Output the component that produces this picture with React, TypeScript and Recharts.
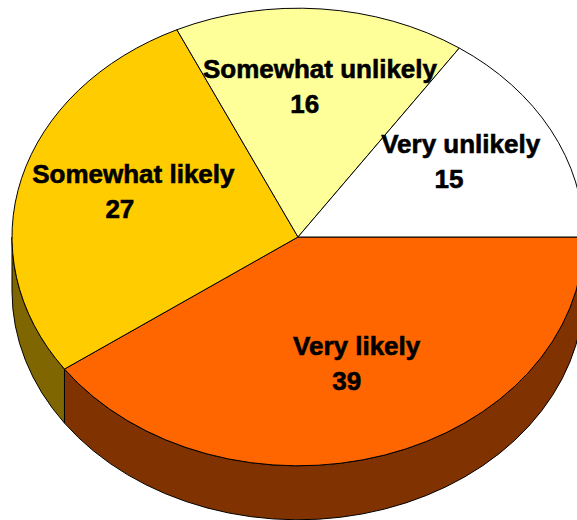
import React from 'react';
import { PieChart, Pie } from 'recharts';

const categories = ['Very likely', 'Somewhat likely', 'Somewhat unlikely', 'Very unlikely'];
const values = [39, 27, 16, 15];
const topColors = ['#FF6600', '#FFCC00', '#FFFF99', '#FFFFFF'];
const sideColors = ['#803300', '#806600', '#80804C', '#808080'];

const data = categories.map((name, i) => ({
  name,
  value: values[i],
  fill: topColors[i],
  side: sideColors[i],
}));

const TILT = 0.8;
const DEPTH = 54;
const RAD = Math.PI / 180;
const FONT = '"Liberation Sans", Arial, sans-serif';

function pt(cx: number, cy: number, rx: number, ry: number, a: number, dy = 0): [number, number] {
  return [cx + rx * Math.cos(a * RAD), cy - ry * Math.sin(a * RAD) + dy];
}

function Slice3D(props: any) {
  const { cx, cy, outerRadius, startAngle, endAngle, fill } = props;
  const side = props.side ?? props.payload?.side ?? '#666';
  const rx = outerRadius;
  const ry = outerRadius * TILT;
  const [x1, y1] = pt(cx, cy, rx, ry, startAngle);
  const [x2, y2] = pt(cx, cy, rx, ry, endAngle);
  const span = Math.abs(endAngle - startAngle);
  const large = span > 180 ? 1 : 0;
  const sweep = endAngle < startAngle ? 1 : 0;
  const top = `M${cx},${cy} L${x1},${y1} A${rx},${ry} 0 ${large} ${sweep} ${x2},${y2} Z`;

  const hi = Math.max(startAngle, endAngle);
  const lo = Math.min(startAngle, endAngle);
  const walls: string[] = [];
  for (let k = -2; k <= 1; k++) {
    const wLo = Math.max(lo, -180 + 360 * k);
    const wHi = Math.min(hi, 360 * k);
    if (wHi - wLo > 0.01) {
      const [ax, ay] = pt(cx, cy, rx, ry, wHi);
      const [bx, by] = pt(cx, cy, rx, ry, wLo);
      const wl = wHi - wLo > 180 ? 1 : 0;
      walls.push(
        `M${ax},${ay} A${rx},${ry} 0 ${wl} 1 ${bx},${by} L${bx},${by + DEPTH} A${rx},${ry} 0 ${wl} 0 ${ax},${ay + DEPTH} Z`
      );
    }
  }
  return (
    <g>
      {walls.map((d, i) => (
        <path key={i} d={d} fill={side} stroke="#000" strokeWidth={1} strokeLinejoin="round" />
      ))}
      <path d={top} fill={fill} stroke="#000" strokeWidth={1} strokeLinejoin="round" />
    </g>
  );
}

const renderLabel = (p: any) => {
  const { cx, cy, midAngle, outerRadius } = p;
  const name = p.name ?? p.payload?.name;
  const value = p.value ?? p.payload?.value;
  const f = 0.62;
  const x = cx + f * outerRadius * Math.cos(midAngle * RAD);
  const y = cy - f * outerRadius * TILT * Math.sin(midAngle * RAD);
  const shift = String(name).length * 0.9;
  const common = {
    textAnchor: 'middle' as const,
    fill: '#000',
    stroke: '#000',
    strokeWidth: 0.6,
    fontFamily: FONT,
    fontWeight: 'bold',
    fontSize: 26,
  };
  return (
    <g>
      <text x={x + shift / 2} y={y - 17.5} {...common}>
        {name}
      </text>
      <text x={x - shift / 2} y={y + 17.5} {...common}>
        {value}
      </text>
    </g>
  );
};

export default function App() {
  return (
    <div style={{ position: 'absolute', left: 0, top: 0, width: 577, height: 520, background: '#fff' }}>
      <PieChart width={577} height={520} margin={{ top: 0, right: 0, bottom: 0, left: 0 }}>
        <Pie
          data={data}
          dataKey="value"
          nameKey="name"
          cx={298}
          cy={237}
          outerRadius={286}
          startAngle={0}
          endAngle={-360}
          stroke="#000"
          shape={Slice3D}
          label={renderLabel}
          labelLine={false}
          isAnimationActive={false}
        />
      </PieChart>
    </div>
  );
}
